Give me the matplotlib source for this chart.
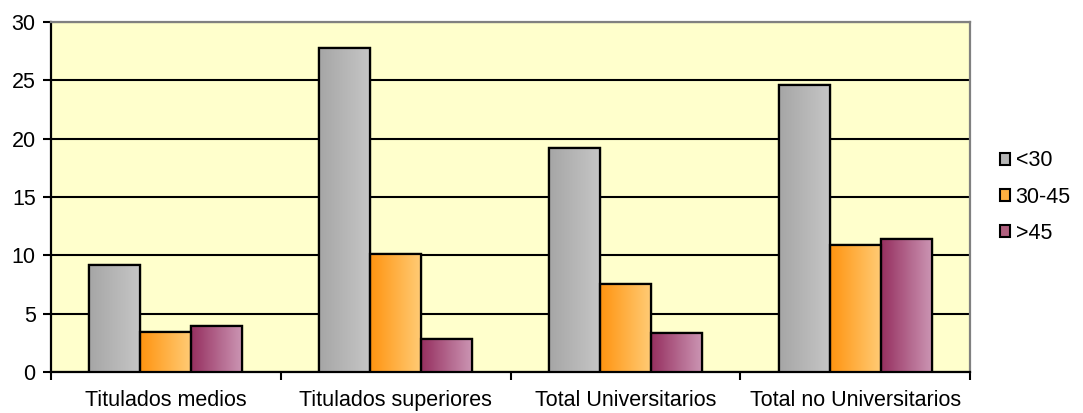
import numpy as np
import matplotlib
matplotlib.use('Agg')
from matplotlib import pyplot as plt
from matplotlib.colors import LinearSegmentedColormap
from matplotlib.patches import Patch

plt.rcParams['font.family'] = ['Liberation Sans', 'DejaVu Sans']

categories = ['Titulados medios', 'Titulados superiores', 'Total Universitarios', 'Total no Universitarios']
series = ['<30', '30-45', '>45']
v_lt30 = [9.2, 27.8, 19.2, 24.6]
v_30_45 = [3.4, 10.1, 7.5, 10.9]
v_gt45 = [3.9, 2.8, 3.3, 11.4]
values = [v_lt30, v_30_45, v_gt45]

# left colour, right colour of the horizontal gradient
grads = [('#a6a6a6', '#c6c6c6'), ('#ff9410', '#ffcc77'), ('#963060', '#cc96b4')]
legend_cols = ['#b6b6b6', '#ffb040', '#b0607f']

fig = plt.figure(figsize=(10.83, 4.13), dpi=100)
ax = fig.add_axes([0.0471, 0.0993, 0.8486, 0.8474])
ax.set_facecolor('#ffffcc')

x = np.arange(len(categories))
w = 0.222
grad = np.linspace(0, 1, 64).reshape(1, -1)
for i, vals in enumerate(values):
    cmap = LinearSegmentedColormap.from_list('g%d' % i, grads[i])
    bars = ax.bar(x + (i - 1) * w, vals, w, color=grads[i][1], edgecolor='black', linewidth=1.6, zorder=3)
    for b in bars:
        bx, by = b.get_x(), b.get_y()
        im = ax.imshow(grad, cmap=cmap, aspect='auto', extent=(bx, bx + b.get_width(), by, by + b.get_height()),
                       zorder=3.5, interpolation='bicubic')
        im.set_clip_path(b)
        edge = plt.Rectangle((bx, by), b.get_width(), b.get_height(), fill=False, edgecolor='black',
                             linewidth=1.6, zorder=4)
        ax.add_patch(edge)

ax.set_xlim(-0.5, len(categories) - 0.5)
ax.set_ylim(0, 30)
ax.set_yticks(range(0, 31, 5))
ax.yaxis.grid(True, color='black', linewidth=1.5, zorder=1)
ax.set_axisbelow(True)

ax.set_xticks(np.arange(-0.5, len(categories), 1))
ax.set_xticklabels([])
ax.set_xticks(x, minor=True)
ax.set_xticklabels(categories, minor=True, fontsize=15.5)
ax.tick_params(axis='x', which='minor', length=0, pad=13)
ax.tick_params(axis='x', which='major', length=6, width=1.5, direction='out')
ax.tick_params(axis='y', length=6, width=1.5, labelsize=15.5, pad=5)

for s in ['left', 'bottom']:
    ax.spines[s].set_color('black')
    ax.spines[s].set_linewidth(1.6)
for s in ['top', 'right']:
    ax.spines[s].set_color('#808080')
    ax.spines[s].set_linewidth(1.6)

handles = [Patch(facecolor=legend_cols[i], edgecolor='black', linewidth=1.5) for i in range(3)]
ax.legend(handles, series, loc='center left', bbox_to_anchor=(1.021, 0.5), frameon=False, fontsize=15.5,
          handlelength=0.47, handleheight=0.47, handletextpad=0.25, labelspacing=0.7, borderpad=0)

fig.savefig('out.png', dpi=100)
